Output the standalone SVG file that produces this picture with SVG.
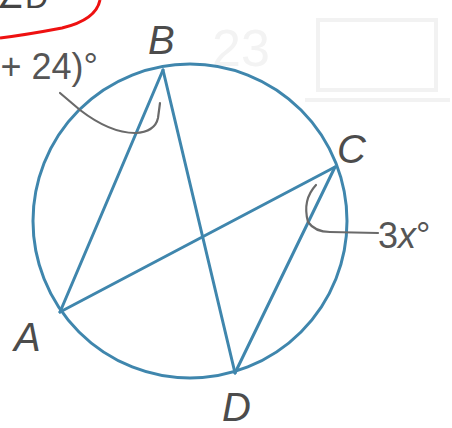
<svg xmlns="http://www.w3.org/2000/svg" width="452" height="428" viewBox="0 0 452 428">
<style>
.lbl{font-family:"Liberation Sans",Arial,sans-serif;font-style:italic;font-size:40px;fill:#4c4c4c}
.num{font-family:"Liberation Sans",Arial,sans-serif;font-size:36px;fill:#555}
.geo{fill:none;stroke:#3f86ad;stroke-width:3;stroke-linecap:round}
.lead{fill:none;stroke:#6a6a6a;stroke-width:2.2;stroke-linecap:round}
.wm{fill:none;stroke:#f2f2f2;stroke-width:4}
</style>
<rect width="452" height="428" fill="#ffffff"/>
<g id="watermark">
<text x="212" y="66" font-family="Liberation Sans,Arial,sans-serif" font-size="52" fill="#f3f3f3">23</text>
<rect x="318" y="20" width="118" height="70" class="wm"/>
<path d="M305 100 L450 100" class="wm"/>
</g>
<g id="red-mark">
<text x="-4" y="8" font-family="Liberation Sans,Arial,sans-serif" font-size="32" fill="#444">∠D</text>
<path d="M100 0 Q96 20 62 28 Q25 35 0 38" fill="none" stroke="#ee1111" stroke-width="3"/>
</g>
<g id="circle"><circle cx="190" cy="221" r="157" class="geo"/></g>
<g id="connectors">
<line x1="60" y1="312" x2="163" y2="70" class="geo"/>
<line x1="163" y1="70" x2="235" y2="373" class="geo"/>
<line x1="60" y1="312" x2="335" y2="167" class="geo"/>
<line x1="335" y1="167" x2="235" y2="373" class="geo"/>
<path d="M60 93 L80 110 Q110 133 135 133 Q155 132 158 118 L160 103" class="lead"/>
<path d="M316 185 Q302 200 308 222 Q315 232 330 232 L378 233" class="lead"/>
</g>
<g id="A"><text x="14" y="351" class="lbl">A</text></g>
<g id="B"><text x="148" y="54" class="lbl">B</text></g>
<g id="C"><text x="337" y="163" class="lbl">C</text></g>
<g id="D"><text x="222" y="421" class="lbl">D</text></g>
<g id="label-b"><text x="98" y="79" text-anchor="end" class="num">+ 24)°</text></g>
<g id="label-c"><text x="378" y="248" class="num">3<tspan font-style="italic">x</tspan>°</text></g>
</svg>
